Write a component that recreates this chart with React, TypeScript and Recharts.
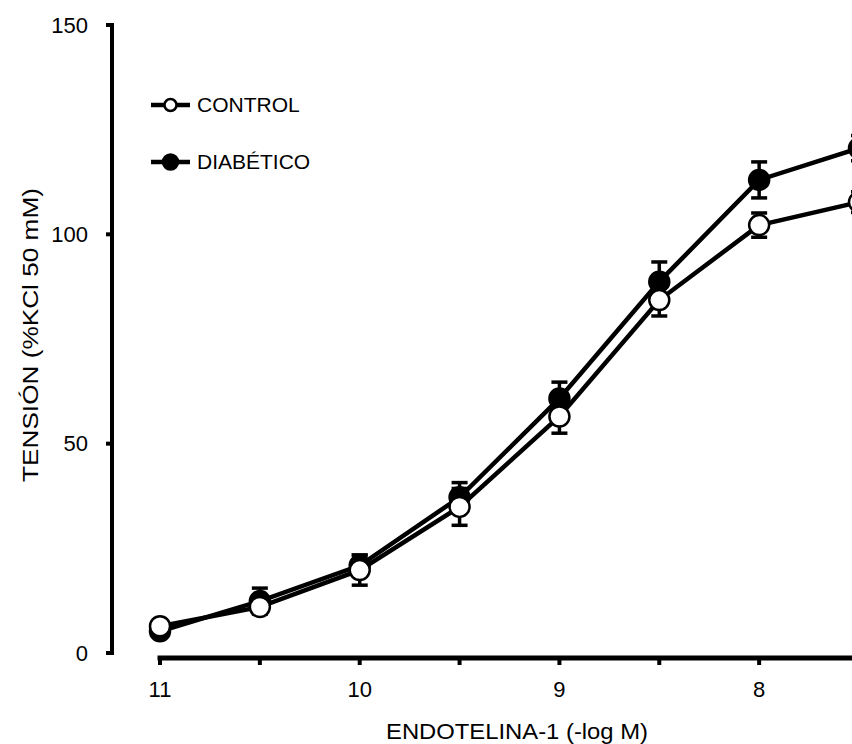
import React from 'react';
import { LineChart, Line, XAxis, YAxis, ErrorBar, ReferenceLine, Legend, Label } from 'recharts';

const concentrations = [11, 10.5, 10, 9.5, 9, 8.5, 8, 7.5];
const controlValues = [6.4, 11.0, 19.8, 34.9, 56.5, 84.3, 102.2, 107.7];
const controlErrors = [1, 1.5, 3.6, 4.4, 4.0, 3.8, 2.9, 2.5];
const diabeticValues = [5.2, 12.4, 20.9, 37.2, 60.8, 88.7, 113.0, 120.6];
const diabeticErrors = [1, 3.1, 2.5, 3.5, 3.9, 4.7, 4.3, 3.0];
const xTicks = [11, 10.5, 10, 9.5, 9, 8.5, 8, 7.5];
const yTicks = [0, 50, 100, 150];

const data = concentrations.map((x, i) => ({
  x,
  control: controlValues[i],
  controlErr: controlErrors[i],
  diabetic: diabeticValues[i],
  diabeticErr: diabeticErrors[i],
}));

const FONT = '"Liberation Sans", Arial, sans-serif';
const CHART_W = 880;
const CHART_H = 744;
const M = { top: 25, right: 21, bottom: 0, left: 0 };
const Y_W = 112;
const X_H = 86;
const X_PAD_LEFT = 48;
const Y_PAD_BOTTOM = 5;

const yPx = (CHART_H - M.top - M.bottom - X_H - Y_PAD_BOTTOM) / 150;
const xPx = (CHART_W - M.left - M.right - Y_W - X_PAD_LEFT) / (11 - 7.5);
const xAxisLineY = -Y_PAD_BOTTOM / yPx;
const yAxisLineX = 11 + X_PAD_LEFT / xPx;

const renderLegend = () => (
  <div style={{ position: 'relative', width: 200, height: 90, fontFamily: FONT, fontSize: 21, color: '#000' }}>
    {[
      { name: 'CONTROL', fill: '#fff', r: 6, top: 3 },
      { name: 'DIABÉTICO', fill: '#000', r: 7.5, top: 60 },
    ].map((it) => (
      <div key={it.name} style={{ position: 'absolute', left: 0, top: it.top, height: 24, display: 'flex', alignItems: 'center' }}>
        <svg width={41} height={24} style={{ display: 'block' }}>
          <line x1={1} y1={12} x2={40} y2={12} stroke="#000" strokeWidth={4.5} />
          <circle cx={20.5} cy={12} r={it.r} fill={it.fill} stroke="#000" strokeWidth={2.5} />
        </svg>
        <span style={{ marginLeft: 6, lineHeight: '24px', whiteSpace: 'nowrap' }}>{it.name}</span>
      </div>
    ))}
  </div>
);

export default function App() {
  return (
    <div style={{ position: 'absolute', left: 0, top: 0, width: 852, height: 744, overflow: 'hidden', background: '#fff' }}>
      <LineChart width={CHART_W} height={CHART_H} data={data} margin={M}>
        <XAxis
          dataKey="x"
          type="number"
          domain={[7.5, 11]}
          reversed
          ticks={xTicks}
          interval={0}
          padding={{ left: X_PAD_LEFT, right: 0 }}
          height={X_H}
          axisLine={false}
          tickLine={{ stroke: '#000', strokeWidth: 4 }}
          tickSize={7}
          tickMargin={16}
          tick={{ fill: '#000', fontSize: 22, fontFamily: FONT }}
          tickFormatter={(v: number) => (Number.isInteger(v) ? String(v) : '')}
        >
          <Label
            content={() => (
              <text
                x={517}
                y={739}
                textAnchor="middle"
                fontSize={22}
                fontFamily={FONT}
                fill="#000"
                textLength={262}
                lengthAdjust="spacingAndGlyphs"
              >
                ENDOTELINA-1 (-log M)
              </text>
            )}
          />
        </XAxis>
        <YAxis
          type="number"
          domain={[0, 150]}
          ticks={yTicks}
          interval={0}
          width={Y_W}
          padding={{ top: 0, bottom: Y_PAD_BOTTOM }}
          axisLine={false}
          tickLine={{ stroke: '#000', strokeWidth: 4 }}
          tickSize={6}
          tickMargin={18}
          tick={{ fill: '#000', fontSize: 22, fontFamily: FONT }}
        >
          <Label
            content={() => (
              <text
                x={38}
                y={335}
                transform="rotate(-90 38 335)"
                textAnchor="middle"
                fontSize={22}
                fontFamily={FONT}
                fill="#000"
                textLength={294}
                lengthAdjust="spacingAndGlyphs"
              >
                TENSIÓN (%KCl 50 mM)
              </text>
            )}
          />
        </YAxis>
        <ReferenceLine
          segment={[{ x: yAxisLineX, y: 0 }, { x: yAxisLineX, y: 150 }]}
          stroke="#000"
          strokeWidth={4}
          strokeLinecap="square"
          ifOverflow="visible"
        />
        <ReferenceLine
          segment={[{ x: 11, y: xAxisLineY }, { x: 7.5, y: xAxisLineY }]}
          stroke="#000"
          strokeWidth={5}
          strokeLinecap="square"
          ifOverflow="visible"
        />
        <Legend
          layout="vertical"
          align="center"
          verticalAlign="middle"
          wrapperStyle={{ left: 150, top: 90, width: 200, height: 90 }}
          content={renderLegend}
        />
        <Line
          dataKey="diabetic"
          name="DIABÉTICO"
          type="linear"
          stroke="#000"
          strokeWidth={4.5}
          isAnimationActive={false}
          dot={{ r: 10, fill: '#000', stroke: '#000', strokeWidth: 2.5 }}
          activeDot={false}
        >
          <ErrorBar dataKey="diabeticErr" direction="y" width={8} stroke="#000" strokeWidth={3.5} />
        </Line>
        <Line
          dataKey="control"
          name="CONTROL"
          type="linear"
          stroke="#000"
          strokeWidth={4.5}
          isAnimationActive={false}
          dot={{ r: 10, fill: '#fff', stroke: '#000', strokeWidth: 2.5 }}
          activeDot={false}
        >
          <ErrorBar dataKey="controlErr" direction="y" width={8} stroke="#000" strokeWidth={3.5} />
        </Line>
      </LineChart>
    </div>
  );
}
